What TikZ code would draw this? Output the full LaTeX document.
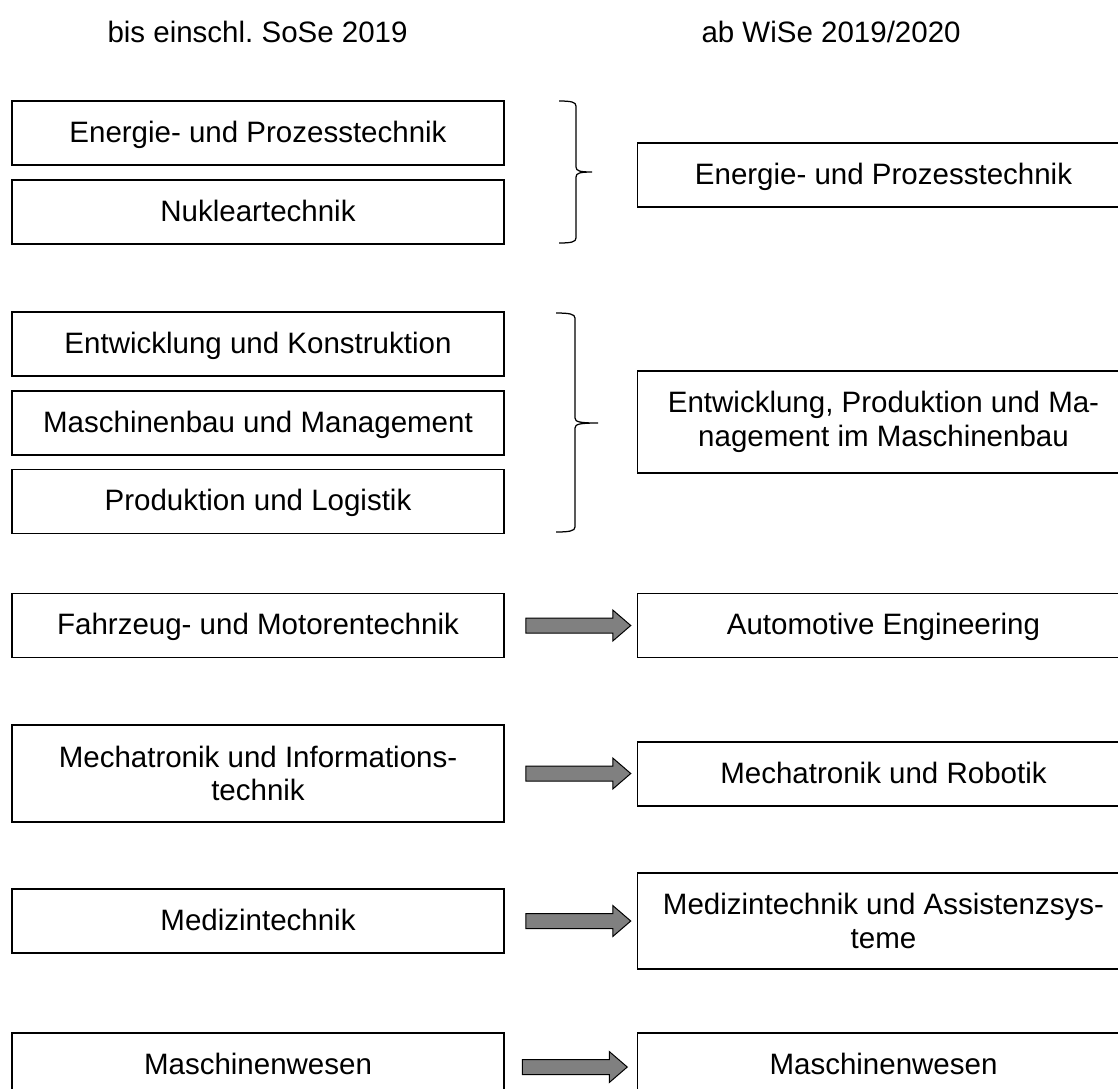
\documentclass[tikz,border=0pt]{standalone}
\usepackage{fontspec}
\setmainfont{Liberation Sans}
\usepackage{tikz}
\usetikzlibrary{positioning}
\frenchspacing

\begin{document}
\begin{tikzpicture}[x=0.4pt, y=-0.4pt,
  frame/.style={draw, line width=0.6pt, minimum width=196.8pt,
    align=center, font=\fontsize{11.8}{13.4}\selectfont},
  box/.style={frame, minimum height=25.6pt, text height=0.8em, text depth=0.05em},
  tallbox/.style={frame, minimum height=#1},
  heading/.style={anchor=base west, inner sep=0pt, font=\fontsize{11.8}{13.4}\selectfont},
  brace/.style={line width=0.5pt},
  pics/blockarrow/.style={code={
    \draw[fill=gray, line width=0.4pt] (0pt, 3pt) -- (34.8pt, 3pt) -- (34.8pt, 6.2pt)
      -- (42pt, 0pt) -- (34.8pt, -6.2pt) -- (34.8pt, -3pt) -- (0pt, -3pt) -- cycle;}}]
  \clip (0, 0) rectangle (1118, 1088);

  % Headings
  \node[heading] (h_old) at (107, 42) {bis einschl. SoSe 2019};
  \node[heading] (h_new) at (701, 42) {ab WiSe 2019/2020};

  % Old programmes
  \node[box] (old_1) at (258, 133) {Energie- und Prozesstechnik};
  \node[box] (old_2) at (258, 212) {Nukleartechnik};
  \node[box] (old_3) at (258, 344) {Entwicklung und Konstruktion};
  \node[box] (old_4) at (258, 423) {Maschinenbau und Management};
  \node[box] (old_5) at (258, 501.5) {Produktion und Logistik};
  \node[box] (old_6) at (258, 625.5) {Fahrzeug- und Motorentechnik};
  \node[tallbox=38.8pt] (old_7) at (258, 773.5) {Mechatronik und Informations-\\technik};
  \node[box] (old_8) at (258, 921) {Medizintechnik};
  \node[box] (old_9) at (258, 1065) {Maschinenwesen};

  % New programmes
  \node[box] (new_1) at (883.5, 175) {Energie- und Prozesstechnik};
  \node[tallbox=40.8pt] (new_2) at (883.5, 422) {Entwicklung, Produktion und Ma-\\nagement im Maschinenbau};
  \node[box] (new_3) at (883.5, 625.5) {Automotive Engineering};
  \node[box] (new_4) at (883.5, 774) {Mechatronik und Robotik};
  \node[tallbox=38.4pt] (new_5) at (883.5, 921) {Medizintechnik und Assistenzsys-\\teme};
  \node[box] (new_6) at (883.5, 1065) {Maschinenwesen};

  % Braces
  \draw[brace] (559, 101) .. controls (571, 101) and (576, 102) .. (576, 106) -- (576, 167)
    .. controls (576, 171) and (580, 172) .. (592, 172)
    .. controls (580, 172) and (576, 173) .. (576, 177) -- (576, 238)
    .. controls (576, 242) and (571, 243) .. (559, 243);
  \draw[brace] (556, 313) .. controls (569, 313) and (575, 314) .. (575, 318) -- (575, 418)
    .. controls (575, 422) and (580, 423) .. (598, 423)
    .. controls (580, 423) and (575, 424) .. (575, 428) -- (575, 527)
    .. controls (575, 531) and (569, 532) .. (556, 532);

  % Arrows
  \pic at ([xshift=8.4pt]old_6.east) {blockarrow};
  \pic at ([xshift=8.4pt]old_7.east) {blockarrow};
  \pic at ([xshift=8.4pt]old_8.east) {blockarrow};
  \pic at ([xshift=7pt, yshift=-0.8pt]old_9.east) {blockarrow};

\end{tikzpicture}
\end{document}
